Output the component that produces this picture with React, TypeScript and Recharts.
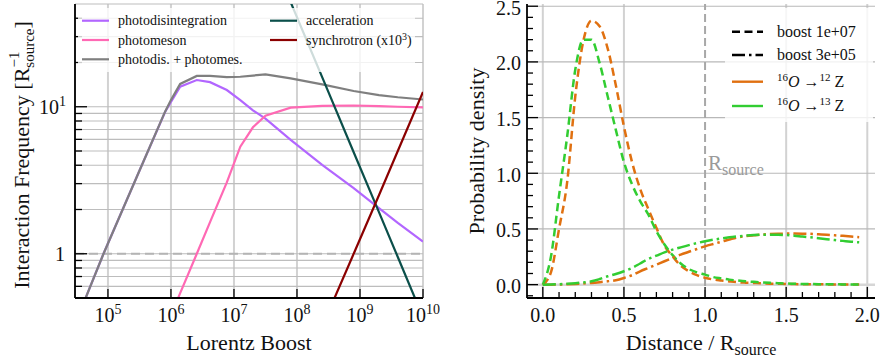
import React from 'react';
import { LineChart, Line, XAxis, YAxis, CartesianGrid, ReferenceLine } from 'recharts';

const FONT = '"Liberation Serif", "Times New Roman", serif';

// left panel: interaction frequency vs Lorentz boost
const boost = [3.16e4, 8.5e4, 3.16e5, 8.1e5, 1.0e6, 1.4e6, 2.57e6, 4.17e6, 7.7e6, 1.26e7, 2.0e7, 3.16e7, 7.94e7, 2.51e8, 7.94e8, 2.0e9, 3.98e9, 1.0e10];
const photodisintegration = [0.35, 1.0, 3.67, 9.25, 10.8, 13.7, 15.2, 14.7, 13.0, 11.1, 9.46, 8.3, 5.96, 4.03, 2.8, 2.04, 1.62, 1.21];
const photomeson = [null, null, null, null, 0.38, 0.54, 1.0, 1.64, 3.06, 5.35, 7.25, 8.7, 9.85, 10.15, 10.2, 10.1, 10.0, 9.9];
const photoSum = [0.35, 1.0, 3.67, 9.3, 11.1, 14.3, 16.2, 16.2, 15.9, 16.0, 16.3, 16.6, 15.6, 14.2, 12.8, 12.0, 11.6, 11.2];
const acceleration = [null, null, null, null, null, null, null, null, null, null, null, 132, 51.4, 15.9, 4.9, 1.92, 0.95, 0.37];
const synchrotron = [null, null, null, null, null, null, null, null, null, null, null, null, null, 0.32, 1.0, 2.5, 5.0, 12.6];

const boostTicks = [1e5, 1e6, 1e7, 1e8, 1e9, 1e10];
const rateTicks = [0.6, 0.7, 0.8, 0.9, 1, 2, 3, 4, 5, 6, 7, 8, 9, 10, 20, 30, 40];
const rateMajor = [1, 10];

// right panel: interaction distance distributions
const distance = [0, 0.05, 0.1, 0.15, 0.2, 0.25, 0.3, 0.35, 0.4, 0.45, 0.5, 0.55, 0.6, 0.65, 0.7, 0.75, 0.8, 0.85, 0.9, 0.95, 1.0, 1.05, 1.1, 1.15, 1.2, 1.25, 1.3, 1.35, 1.4, 1.45, 1.5, 1.55, 1.6, 1.65, 1.7, 1.75, 1.8, 1.85, 1.9, 1.95];
const o12Boost1e7 = [0, 0.11, 0.5, 0.92, 1.69, 2.19, 2.37, 2.32, 2.12, 1.79, 1.42, 1.1, 0.86, 0.68, 0.51, 0.35, 0.254, 0.17, 0.12, 0.085, 0.062, 0.046, 0.037, 0.029, 0.022, 0.018, 0.015, 0.012, 0.009, 0.008, 0.006, 0.005, 0.004, 0.003, 0.003, 0.002, 0.002, 0.002, 0.001, 0.001];
const o13Boost1e7 = [0, 0.25, 0.8, 1.33, 1.93, 2.2, 2.2, 1.99, 1.69, 1.39, 1.1, 0.9, 0.75, 0.63, 0.48, 0.36, 0.265, 0.19, 0.14, 0.11, 0.09, 0.068, 0.056, 0.045, 0.037, 0.03, 0.025, 0.02, 0.016, 0.013, 0.01, 0.008, 0.006, 0.005, 0.004, 0.003, 0.003, 0.002, 0.002, 0.002];
const o12Boost3e5 = [0, 0, 0.001, 0.003, 0.006, 0.01, 0.015, 0.022, 0.03, 0.04, 0.06, 0.085, 0.12, 0.15, 0.18, 0.21, 0.24, 0.27, 0.295, 0.32, 0.344, 0.365, 0.385, 0.405, 0.424, 0.435, 0.443, 0.45, 0.454, 0.457, 0.458, 0.459, 0.458, 0.456, 0.452, 0.448, 0.443, 0.438, 0.432, 0.426];
const o13Boost3e5 = [0, 0.001, 0.004, 0.008, 0.013, 0.02, 0.03, 0.05, 0.075, 0.095, 0.12, 0.15, 0.19, 0.23, 0.26, 0.29, 0.314, 0.335, 0.355, 0.373, 0.39, 0.403, 0.415, 0.425, 0.433, 0.44, 0.445, 0.448, 0.449, 0.448, 0.445, 0.44, 0.432, 0.425, 0.417, 0.408, 0.4, 0.393, 0.386, 0.38];

const distTicks = [0, 0.1, 0.2, 0.3, 0.4, 0.5, 0.6, 0.7, 0.8, 0.9, 1, 1.1, 1.2, 1.3, 1.4, 1.5, 1.6, 1.7, 1.8, 1.9, 2];
const distMajor = [0, 0.5, 1, 1.5, 2];
const densTicks = [-0.1, 0, 0.1, 0.2, 0.3, 0.4, 0.5, 0.6, 0.7, 0.8, 0.9, 1, 1.1, 1.2, 1.3, 1.4, 1.5, 1.6, 1.7, 1.8, 1.9, 2, 2.1, 2.2, 2.3, 2.4, 2.5];
const densMajor = [0, 0.5, 1, 1.5, 2, 2.5];
const gridX = [0, 0.5, 1.5, 2];
const gridY = [0.5, 1, 1.5, 2, 2.5];

const ORANGE = '#e07010';
const GREEN = '#32cd32';

const rateData = boost.map((b, i) => ({
  boost: b,
  pd: photodisintegration[i],
  pm: photomeson[i],
  sum: photoSum[i],
  acc: acceleration[i],
  syn: synchrotron[i],
}));

const densData = distance.map((d, i) => ({
  d,
  a12: o12Boost1e7[i],
  a13: o13Boost1e7[i],
  b12: o12Boost3e5[i],
  b13: o13Boost3e5[i],
}));

type Side = 'left' | 'right' | 'top' | 'bottom';

const isIn = (list: number[], v: number) =>
  list.some((m) => Math.abs(m - v) < 1e-6 * Math.max(1, Math.abs(m)));

// inward-pointing ticks, long for majors, with an optional label
function tickMark(
  side: Side,
  majors: number[],
  majorLen: number,
  minorLen: number,
  label?: (v: number, x: number, y: number) => React.ReactNode
) {
  return (props: any) => {
    const { x, y, payload } = props;
    const v = Number(payload.value);
    const major = isIn(majors, v);
    const len = major ? majorLen : minorLen;
    const dx = side === 'left' ? len : side === 'right' ? -len : 0;
    const dy = side === 'top' ? len : side === 'bottom' ? -len : 0;
    return (
      <g>
        <line x1={x} y1={y} x2={x + dx} y2={y + dy} stroke="#000" strokeWidth={1.3} />
        {major && label ? label(v, x, y) : null}
      </g>
    );
  };
}

const logXLabel = (v: number, x: number, y: number) => (
  <text x={x} y={y + 24} textAnchor="middle" fontSize={20} fontFamily={FONT} fill="#111">
    10<tspan dy={-8} fontSize={14}>{Math.round(Math.log10(v))}</tspan>
  </text>
);

const logYLabel = (v: number, x: number, y: number) =>
  v === 1 ? (
    <text x={x - 10} y={y + 7} textAnchor="end" fontSize={20} fontFamily={FONT} fill="#111">1</text>
  ) : (
    <text x={x - 9} y={y + 7} textAnchor="end" fontSize={20} fontFamily={FONT} fill="#111">
      10<tspan dy={-8} fontSize={14}>{Math.round(Math.log10(v))}</tspan>
    </text>
  );

const linXLabel = (v: number, x: number, y: number) => (
  <text x={x} y={y + 24} textAnchor="middle" fontSize={20} fontFamily={FONT} fill="#111">{v.toFixed(1)}</text>
);

const linYLabel = (v: number, x: number, y: number) => (
  <text x={x - 6} y={y + 8.5} textAnchor="end" fontSize={20} fontFamily={FONT} fill="#111">{v.toFixed(1)}</text>
);

const frame = { stroke: '#000', strokeWidth: 1.8 };

const boostAxisLabel = (p: any) => {
  const vb = p.viewBox;
  return (
    <text x={vb.x + vb.width / 2} y={vb.y + 52} textAnchor="middle" fontSize={22} fontFamily={FONT} fill="#111">
      Lorentz Boost
    </text>
  );
};

const rateAxisLabel = (p: any) => {
  const vb = p.viewBox;
  const cx = vb.x + 22;
  const cy = vb.y + vb.height / 2 + 4;
  return (
    <text x={cx} y={cy + 7} transform={`rotate(-90, ${cx}, ${cy})`} textAnchor="middle" fontSize={22} fontFamily={FONT} fill="#111">
      Interaction Frequency [R
      <tspan dy={5} fontSize={15}>source</tspan>
      <tspan dx={-39} dy={-15} fontSize={15}>−1</tspan>
      <tspan dx={23} dy={10}>]</tspan>
    </text>
  );
};

const distAxisLabel = (p: any) => {
  const vb = p.viewBox;
  return (
    <text x={vb.x + vb.width / 2} y={vb.y + 52} textAnchor="middle" fontSize={22} fontFamily={FONT} fill="#111">
      Distance / R<tspan dy={5} fontSize={16}>source</tspan>
    </text>
  );
};

const densAxisLabel = (p: any) => {
  const vb = p.viewBox;
  const cx = vb.x + 37;
  const cy = vb.y + vb.height / 2;
  return (
    <text x={cx} y={cy + 7} transform={`rotate(-90, ${cx}, ${cy})`} textAnchor="middle" fontSize={22} fontFamily={FONT} fill="#111">
      Probability density
    </text>
  );
};

const sourceLabel = (p: any) => {
  const vb = p.viewBox;
  return (
    <text x={vb.x + 3} y={vb.y + vb.height * 0.565} fontSize={21} fontFamily={FONT} fill="#9a9a9a">
      R<tspan dy={5} fontSize={16}>source</tspan>
    </text>
  );
};

const leftLegend = [
  { name: 'photodisintegration', color: '#b266ff', col: 0, row: 0 },
  { name: 'photomeson', color: '#ff69b4', col: 0, row: 1 },
  { name: 'photodis. + photomes.', color: '#7f7f7f', col: 0, row: 2 },
  { name: 'acceleration', color: '#0b4f4a', col: 1, row: 0 },
  { name: 'synchrotron (x10', color: '#8b0000', col: 1, row: 1, sup: '3' },
];

const rightLegend = [
  { key: 'dash', color: '#000', dash: '8 4.5' },
  { key: 'dashdot', color: '#000', dash: '13 4 2.5 4' },
  { key: 'o12', color: ORANGE, dash: undefined },
  { key: 'o13', color: GREEN, dash: undefined },
];

function Legends() {
  const colX = [82, 270];
  const rowY = [20.7, 40, 59.3];
  const rRowY = [31.7, 55, 81.7, 106];
  return (
    <svg width={880} height={362} style={{ position: 'absolute', left: 0, top: 0, pointerEvents: 'none' }}>
      <rect x={78} y={8} width={337} height={64} fill="#fff" fillOpacity={0.8} />
      {leftLegend.map((e) => (
        <g key={e.name}>
          <line x1={colX[e.col]} x2={colX[e.col] + 27} y1={rowY[e.row]} y2={rowY[e.row]} stroke={e.color} strokeWidth={2.2} />
          <text x={colX[e.col] + 36} y={rowY[e.row] + 4.5} fontSize={14} fontFamily={FONT} fill="#111">
            {e.name}
            {e.sup ? (
              <>
                <tspan dy={-5} fontSize={10}>{e.sup}</tspan>
                <tspan dy={5}>)</tspan>
              </>
            ) : null}
          </text>
        </g>
      ))}

      <rect x={725} y={8} width={148} height={114} fill="#fff" fillOpacity={0.8} />
      {rightLegend.map((e, i) => (
        <line key={e.key} x1={732} x2={763} y1={rRowY[i]} y2={rRowY[i]} stroke={e.color} strokeWidth={2.4} strokeDasharray={e.dash} />
      ))}
      <text x={777} y={rRowY[0] + 5} fontSize={16} fontFamily={FONT} fill="#111">boost 1e+07</text>
      <text x={777} y={rRowY[1] + 5} fontSize={16} fontFamily={FONT} fill="#111">boost 3e+05</text>
      {['12', '13'].map((z, i) => (
        <text key={z} x={777} y={rRowY[2 + i] + 5} fontSize={16} fontFamily={FONT} fill="#111">
          <tspan dy={-6} fontSize={11}>16</tspan>
          <tspan dy={6} fontStyle="italic">O</tspan>
          <tspan> →</tspan>
          <tspan dy={-6} fontSize={11}>{z}</tspan>
          <tspan dy={6}> Z</tspan>
        </text>
      ))}
    </svg>
  );
}

function RatePanel() {
  return (
    <LineChart width={440} height={362} data={rateData} margin={{ top: 4, right: 17, bottom: 0, left: 0 }}>
      <CartesianGrid horizontal={false} stroke="#d2d2d2" strokeWidth={2} />
      <CartesianGrid vertical={false} stroke="#bdbdbd" strokeWidth={1.2} />
      <XAxis
        dataKey="boost"
        type="number"
        scale="log"
        domain={[3e4, 1e10]}
        allowDataOverflow
        ticks={boostTicks}
        interval={0}
        height={64}
        tickLine={false}
        tickSize={0}
        tickMargin={0}
        axisLine={frame}
        tick={tickMark('bottom', boostTicks, 9, 9, logXLabel)}
        label={boostAxisLabel}
      />
      <XAxis
        xAxisId="top"
        orientation="top"
        type="number"
        scale="log"
        domain={[3e4, 1e10]}
        allowDataOverflow
        ticks={boostTicks}
        interval={0}
        height={0}
        tickLine={false}
        tickSize={0}
        tickMargin={0}
        axisLine={frame}
        tick={tickMark('top', boostTicks, 9, 9)}
      />
      <YAxis
        type="number"
        scale="log"
        domain={[0.5, 50]}
        allowDataOverflow
        ticks={rateTicks}
        interval={0}
        width={75}
        tickLine={false}
        tickSize={0}
        tickMargin={0}
        axisLine={frame}
        tick={tickMark('left', rateMajor, 12, 7, logYLabel)}
        label={rateAxisLabel}
      />
      <YAxis
        yAxisId="right"
        orientation="right"
        type="number"
        scale="log"
        domain={[0.5, 50]}
        allowDataOverflow
        ticks={rateTicks}
        interval={0}
        width={0}
        tickLine={false}
        tickSize={0}
        tickMargin={0}
        axisLine={frame}
        tick={tickMark('right', rateMajor, 12, 7)}
      />
      <ReferenceLine y={1} stroke="#b4b4b4" strokeWidth={2} strokeDasharray="9 5" />
      <Line type="linear" dataKey="pd" stroke="#b266ff" strokeWidth={2.2} dot={false} isAnimationActive={false} />
      <Line type="linear" dataKey="pm" stroke="#ff69b4" strokeWidth={2.2} dot={false} isAnimationActive={false} />
      <Line type="linear" dataKey="sum" stroke="#7f7f7f" strokeWidth={2.2} dot={false} isAnimationActive={false} />
      <Line type="linear" dataKey="acc" stroke="#0b4f4a" strokeWidth={2.2} dot={false} isAnimationActive={false} />
      <Line type="linear" dataKey="syn" stroke="#8b0000" strokeWidth={2.2} dot={false} isAnimationActive={false} />
    </LineChart>
  );
}

function DensityPanel() {
  return (
    <LineChart width={440} height={362} data={densData} margin={{ top: 4, right: 5, bottom: 0, left: 0 }}>
      <CartesianGrid horizontal={false} verticalValues={gridX} stroke="#d2d2d2" strokeWidth={2} />
      <CartesianGrid vertical={false} horizontalValues={gridY} stroke="#b8b8b8" strokeWidth={1.2} />
      <CartesianGrid vertical={false} horizontalValues={[0]} stroke="#d6d6d6" strokeWidth={2.5} />
      <XAxis
        dataKey="d"
        type="number"
        domain={[-0.0975, 2.0475]}
        allowDataOverflow
        ticks={distTicks}
        interval={0}
        height={64}
        tickLine={false}
        tickSize={0}
        tickMargin={0}
        axisLine={frame}
        tick={tickMark('bottom', distMajor, 11, 6, linXLabel)}
        label={distAxisLabel}
      />
      <XAxis
        xAxisId="top"
        orientation="top"
        type="number"
        domain={[-0.0975, 2.0475]}
        allowDataOverflow
        ticks={distTicks}
        interval={0}
        height={0}
        tickLine={false}
        tickSize={0}
        tickMargin={0}
        axisLine={frame}
        tick={tickMark('top', distMajor, 11, 6)}
      />
      <YAxis
        type="number"
        domain={[-0.12, 2.52]}
        allowDataOverflow
        ticks={densTicks}
        interval={0}
        width={87}
        tickLine={false}
        tickSize={0}
        tickMargin={0}
        axisLine={frame}
        tick={tickMark('left', densMajor, 11, 6, linYLabel)}
        label={densAxisLabel}
      />
      <YAxis
        yAxisId="right"
        orientation="right"
        type="number"
        domain={[-0.12, 2.52]}
        allowDataOverflow
        ticks={densTicks}
        interval={0}
        width={0}
        tickLine={false}
        tickSize={0}
        tickMargin={0}
        axisLine={frame}
        tick={tickMark('right', densMajor, 11, 6)}
      />
      <ReferenceLine x={1} stroke="#a8a8a8" strokeWidth={2} strokeDasharray="8 4" label={sourceLabel} />
      <Line type="monotone" dataKey="a12" stroke={ORANGE} strokeWidth={2.5} strokeDasharray="8 4.5" dot={false} isAnimationActive={false} />
      <Line type="monotone" dataKey="a13" stroke={GREEN} strokeWidth={2.5} strokeDasharray="8 4.5" dot={false} isAnimationActive={false} />
      <Line type="monotone" dataKey="b12" stroke={ORANGE} strokeWidth={2.5} strokeDasharray="13 4 2.5 4" dot={false} isAnimationActive={false} />
      <Line type="monotone" dataKey="b13" stroke={GREEN} strokeWidth={2.5} strokeDasharray="13 4 2.5 4" dot={false} isAnimationActive={false} />
    </LineChart>
  );
}

export default function App() {
  return (
    <div style={{ position: 'absolute', left: 0, top: 0, width: 880, height: 362, background: '#fff', fontFamily: FONT }}>
      <div style={{ position: 'absolute', left: 0, top: 0 }}>
        <RatePanel />
      </div>
      <div style={{ position: 'absolute', left: 440, top: 0 }}>
        <DensityPanel />
      </div>
      <Legends />
    </div>
  );
}
